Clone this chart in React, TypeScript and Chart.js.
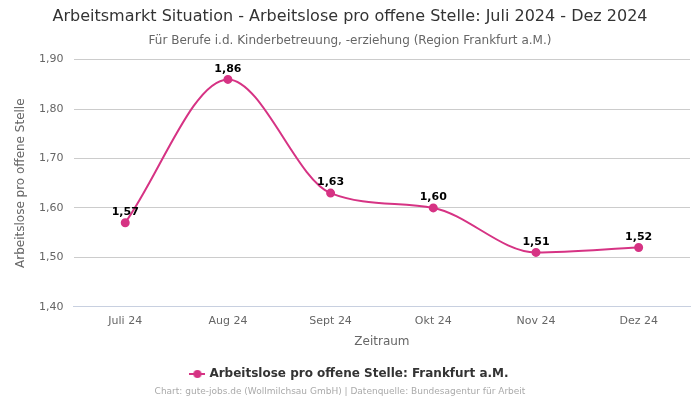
import React, { useEffect, useRef } from "react";
import { Chart, registerables } from "chart.js";

Chart.register(...registerables);

const categories = ["Juli 24", "Aug 24", "Sept 24", "Okt 24", "Nov 24", "Dez 24"];
const values = [1.57, 1.86, 1.63, 1.6, 1.51, 1.52];
const seriesName = "Arbeitslose pro offene Stelle: Frankfurt a.M.";
const titleText = "Arbeitsmarkt Situation - Arbeitslose pro offene Stelle: Juli 2024 - Dez 2024";
const subtitleText = "Für Berufe i.d. Kinderbetreuung, -erziehung (Region Frankfurt a.M.)";
const footerText = "Chart: gute-jobs.de (Wollmilchsau GmbH) | Datenquelle: Bundesagentur für Arbeit";
const yTitle = "Arbeitslose pro offene Stelle";
const xTitle = "Zeitraum";

const COLOR = "#d63384";
const FONT = "'DejaVu Sans', sans-serif";

const fmt = (v: number) => v.toFixed(2).replace(".", ",");

export default function App() {
  const ref = useRef<HTMLCanvasElement | null>(null);
  useEffect(() => {
    document.body.style.margin = "0";
    const legendIcon = document.createElement("canvas");
    legendIcon.width = 16;
    legendIcon.height = 10;
    const lc = legendIcon.getContext("2d")!;
    lc.strokeStyle = COLOR;
    lc.lineWidth = 2;
    lc.beginPath();
    lc.moveTo(0, 5);
    lc.lineTo(16, 5);
    lc.stroke();
    lc.fillStyle = COLOR;
    lc.beginPath();
    lc.arc(8, 5, 4, 0, Math.PI * 2);
    lc.fill();

    const labelsPlugin = {
      id: "valueLabels",
      afterDatasetsDraw(chart: any) {
        const ctx = chart.ctx;
        const meta = chart.getDatasetMeta(0);
        ctx.save();
        ctx.font = `bold 11px ${FONT}`;
        ctx.fillStyle = "#000";
        ctx.textAlign = "center";
        ctx.textBaseline = "bottom";
        meta.data.forEach((pt: any, i: number) => {
          ctx.fillText(fmt(values[i]), pt.x, pt.y - 5);
        });
        ctx.restore();
      },
    };
    const footerPlugin = {
      id: "footer",
      afterDraw(chart: any) {
        const ctx = chart.ctx;
        ctx.save();
        ctx.font = `9px ${FONT}`;
        ctx.fillStyle = "#aaa";
        ctx.textAlign = "center";
        ctx.textBaseline = "middle";
        ctx.fillText(footerText, 340, 392);
        ctx.restore();
      },
    };

    const chart = new Chart(ref.current!, {
      type: "line",
      data: {
        labels: categories,
        datasets: [
          {
            label: seriesName,
            data: values,
            borderColor: COLOR,
            backgroundColor: COLOR,
            borderWidth: 2,
            pointRadius: 3.5,
            pointHoverRadius: 3.5,
            cubicInterpolationMode: "monotone",
            pointStyle: "circle",
          },
        ],
      },
      options: {
        responsive: false,
        animation: false,
        layout: { padding: { left: 10, right: 10, top: 0, bottom: 10 } },
        plugins: {
          title: {
            display: true,
            text: titleText,
            font: { family: FONT, size: 16, weight: "normal" },
            color: "#333",
            padding: { top: 7, bottom: 3 },
          },
          subtitle: {
            display: true,
            text: subtitleText,
            font: { family: FONT, size: 12 },
            color: "#666",
            padding: { top: 4, bottom: 12 },
          },
          legend: {
            position: "bottom",
            labels: {
              usePointStyle: true,
              font: { family: FONT, size: 12, weight: "bold" },
              color: "#333",
              padding: 20,
              generateLabels: () => [
                {
                  text: seriesName,
                  pointStyle: legendIcon,
                  fillStyle: COLOR,
                  strokeStyle: COLOR,
                  lineWidth: 0,
                  hidden: false,
                  datasetIndex: 0,
                  fontColor: "#333",
                } as any,
              ],
            },
          },
          tooltip: { enabled: false },
        },
        scales: {
          x: {
            offset: true,
            grid: { display: false, drawTicks: false },
            border: { display: true, color: "#c8d0e0" },
            ticks: { font: { family: FONT, size: 11 }, color: "#666", padding: 8 },
            title: {
              display: true,
              text: xTitle,
              font: { family: FONT, size: 12, lineHeight: 1 },
              color: "#666",
              padding: { top: 0, bottom: 0 },
            },
          },
          y: {
            min: 1.4,
            max: 1.9,
            ticks: {
              stepSize: 0.1,
              font: { family: FONT, size: 11 },
              color: "#666",
              padding: 10.5,
              callback: (v: any) => fmt(Number(v)),
            },
            grid: { color: "#ccc", drawTicks: false },
            border: { display: false },
            title: {
              display: true,
              text: yTitle,
              font: { family: FONT, size: 12 },
              color: "#666",
              padding: { top: 4, bottom: 0 },
            },
          },
        },
      },
      plugins: [labelsPlugin, footerPlugin],
    });
    return () => chart.destroy();
  }, []);
  return (
    <div style={{ position: "absolute", left: 0, top: 0, width: 700, height: 400 }}>
      <canvas ref={ref} width={700} height={400} />
    </div>
  );
}
